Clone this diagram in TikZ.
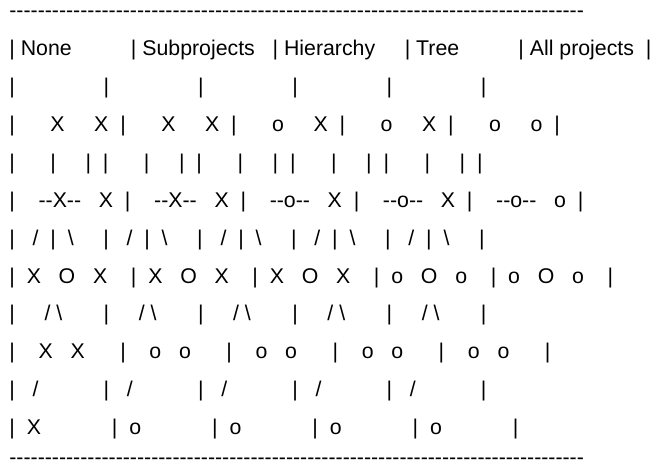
\documentclass[tikz,border=0pt]{standalone}
\usepackage{fontspec}
\newfontfamily\asciifont{Liberation Sans}[Ligatures=TeXOff]
% n blanks of the running font
\newcommand\sk[1]{\hspace*{#1\fontdimen2\font}}
\newcommand\bs{\textbackslash}
\tikzset{x=1pt,y=-1pt,
  asciirow/.style={anchor=base west,inner sep=0pt,text=black,
    font=\asciifont\fontsize{21.3}{21.3}\selectfont}}
\begin{document}
\begin{tikzpicture}
\useasboundingbox (0,0) rectangle (655,465);
\def\xs{9.2}
\node[asciirow] (ruletop) at (\xs,17.7) {\foreach \i in {1,...,81}{-}};
\node[asciirow] (header) at (\xs,55.6) {|\sk1None\sk{10}|\sk1Subprojects\sk3|\sk1Hierarchy\sk5|\sk1Tree\sk{10}|\sk1All\sk1projects\sk2|};
\node[asciirow] (row2) at (\xs,93.5) {|\sk{15}|\sk{15}|\sk{15}|\sk{15}|\sk{15}|};
\node[asciirow] (row3) at (\xs,131.4) {|\sk6X\sk5X\sk2|\sk6X\sk5X\sk2|\sk6o\sk5X\sk2|\sk6o\sk5X\sk2|\sk6o\sk5o\sk2|};
\node[asciirow] (row4) at (\xs,169.3) {|\sk6|\sk5|\sk2|\sk6|\sk5|\sk2|\sk6|\sk5|\sk2|\sk6|\sk5|\sk2|\sk6|\sk5|\sk2|};
\node[asciirow] (row5) at (\xs,207.2) {|\sk4--X--\sk3X\sk2|\sk4--X--\sk3X\sk2|\sk4--o--\sk3X\sk2|\sk4--o--\sk3X\sk2|\sk4--o--\sk3o\sk2|};
\node[asciirow] (row6) at (\xs,245.1) {|\sk3/\sk2|\sk2\bs\sk5|\sk3/\sk2|\sk2\bs\sk5|\sk3/\sk2|\sk2\bs\sk5|\sk3/\sk2|\sk2\bs\sk5|\sk3/\sk2|\sk2\bs\sk5|};
\node[asciirow] (row7) at (\xs,283.0) {|\sk2X\sk3O\sk3X\sk4|\sk2X\sk3O\sk3X\sk4|\sk2X\sk3O\sk3X\sk4|\sk2o\sk3O\sk3o\sk4|\sk2o\sk3O\sk3o\sk4|};
\node[asciirow] (row8) at (\xs,320.9) {|\sk5/\sk1\bs\sk7|\sk5/\sk1\bs\sk7|\sk5/\sk1\bs\sk7|\sk5/\sk1\bs\sk7|\sk5/\sk1\bs\sk7|};
\node[asciirow] (row9) at (\xs,358.8) {|\sk4X\sk3X\sk6|\sk4o\sk3o\sk6|\sk4o\sk3o\sk6|\sk4o\sk3o\sk6|\sk4o\sk3o\sk6|};
\node[asciirow] (row10) at (\xs,396.7) {|\sk3/\sk{11}|\sk3/\sk{11}|\sk3/\sk{11}|\sk3/\sk{11}|\sk3/\sk{11}|};
\node[asciirow] (row11) at (\xs,434.6) {|\sk2X\sk{12}|\sk2o\sk{12}|\sk2o\sk{12}|\sk2o\sk{12}|\sk2o\sk{12}|};
\node[asciirow] (rulebot) at (\xs,464.6) {\foreach \i in {1,...,81}{-}};
\end{tikzpicture}
\end{document}
